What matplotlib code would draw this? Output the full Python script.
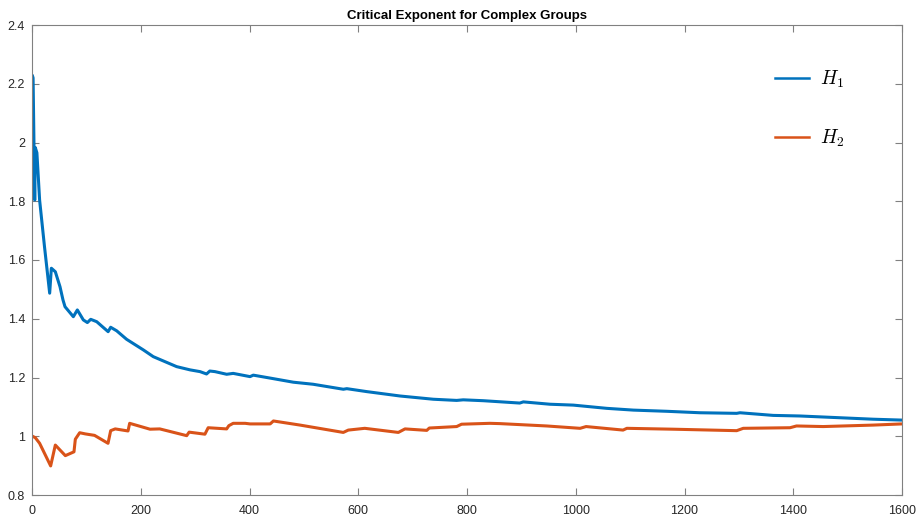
import matplotlib
matplotlib.use("Agg")
import matplotlib.pyplot as plt

# ---- data ----
h1_n = [1, 2, 5, 6, 9, 14, 23, 32.5, 35.6, 42.9, 51.5, 57, 60.7, 76, 83.4, 94.4, 101.8,
        108, 119, 140, 144.7, 155.7, 174, 204.7, 223, 266, 290.6, 309, 321, 327, 336.5,
        358, 370, 401, 407, 441, 480.6, 517, 572.6, 579, 615.5, 677, 738, 781, 793, 830,
        897, 903.6, 952.6, 995.5, 1057, 1106, 1167, 1228.5, 1296, 1302, 1363, 1412,
        1486, 1547, 1600]
h1_v = [2.226, 2.22, 1.804, 1.983, 1.965, 1.804, 1.645, 1.487, 1.572, 1.56, 1.509, 1.464,
        1.441, 1.407, 1.430, 1.396, 1.387, 1.398, 1.39, 1.356, 1.371, 1.359, 1.33, 1.294,
        1.271, 1.237, 1.226, 1.22, 1.212, 1.222, 1.22, 1.211, 1.214, 1.203, 1.208, 1.197,
        1.184, 1.177, 1.16, 1.162, 1.152, 1.137, 1.126, 1.122, 1.124, 1.121, 1.113, 1.117,
        1.109, 1.106, 1.095, 1.089, 1.085, 1.080, 1.078, 1.08, 1.071, 1.069, 1.063, 1.058,
        1.055]

h2_n = [1, 6.1, 14, 34.3, 42.9, 61.3, 77.2, 79.7, 87.7, 98, 115, 139.8, 144.7, 153,
        176.6, 179.6, 217, 235, 284.5, 289, 318, 324, 358, 362, 370, 392, 401, 438, 444,
        493, 572.5, 581.7, 612, 673.7, 686, 726, 730.7, 781, 790, 842, 860.7, 946.6, 1008,
        1019, 1087, 1094, 1179, 1296, 1308, 1394, 1406, 1455, 1547, 1600]
h2_v = [1.0, 0.995, 0.976, 0.899, 0.970, 0.934, 0.947, 0.990, 1.012, 1.008, 1.003, 0.976,
        1.019, 1.025, 1.018, 1.044, 1.024, 1.025, 1.002, 1.014, 1.007, 1.029, 1.025, 1.036,
        1.044, 1.044, 1.042, 1.042, 1.052, 1.038, 1.013, 1.021, 1.027, 1.013, 1.025, 1.020,
        1.028, 1.033, 1.041, 1.044, 1.043, 1.035, 1.027, 1.033, 1.021, 1.027, 1.024, 1.019,
        1.027, 1.029, 1.035, 1.033, 1.038, 1.042]

x_ticks = [0, 200, 400, 600, 800, 1000, 1200, 1400, 1600]
y_ticks = [0.8, 1.0, 1.2, 1.4, 1.6, 1.8, 2.0, 2.2, 2.4]
y_labels = ["0.8", "1", "1.2", "1.4", "1.6", "1.8", "2", "2.2", "2.4"]
title = "Critical Exponent for Complex Groups"
labels = [r"$H_1$", r"$H_2$"]

plt.rcParams['font.family'] = ['Liberation Sans', 'DejaVu Sans']
plt.rcParams['mathtext.fontset'] = 'cm'

W, H = 919, 517
fig = plt.figure(figsize=(W / 100, H / 100), dpi=100)
ax = fig.add_axes([32 / W, (H - 495) / H, (902 - 32) / W, (495 - 25) / H])

blue = "#0072BD"
orange = "#D95319"
ax.plot(h1_n, h1_v, color=blue, lw=2.2, label=labels[0], solid_joinstyle='round')
ax.plot(h2_n, h2_v, color=orange, lw=2.2, label=labels[1], solid_joinstyle='round')

ax.set_xlim(0, 1600)
ax.set_ylim(0.8, 2.4)
ax.set_xticks(x_ticks)
ax.set_yticks(y_ticks)
ax.set_yticklabels(y_labels)

axcol = "#262626"
for s in ax.spines.values():
    s.set_color("#808080")
    s.set_linewidth(0.8)
ax.tick_params(direction='in', length=5, width=0.8, color="#808080",
               labelcolor=axcol, labelsize=9, top=True, right=True)
ax.tick_params(axis='x', pad=7)
ax.tick_params(axis='y', pad=5)

ax.set_title(title, fontsize=9.5, fontweight='bold', color='black', pad=4)

leg = ax.legend(loc='upper right', frameon=False, fontsize=14, handlelength=1.75,
                handletextpad=0.6, labelspacing=1.95, borderaxespad=0.0,
                bbox_to_anchor=(0.943, 0.923))
for line in leg.get_lines():
    line.set_linewidth(1.8)

fig.savefig("out.png", dpi=100)
